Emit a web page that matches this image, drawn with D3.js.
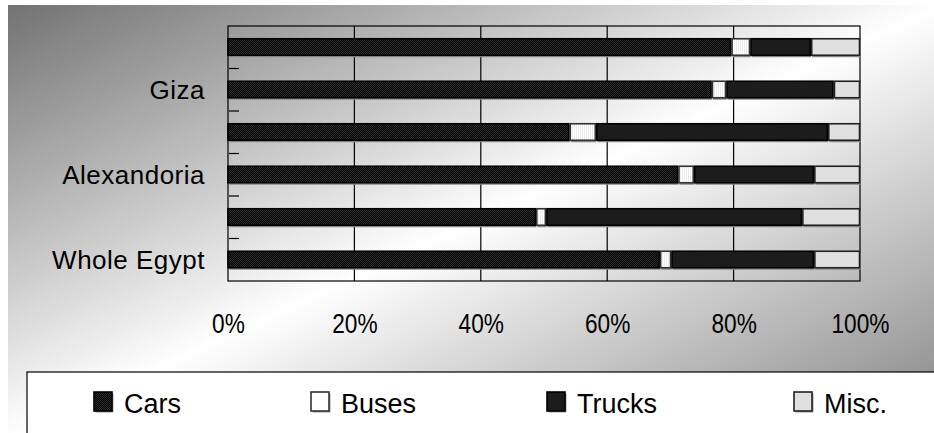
<!DOCTYPE html>
<html>
<head>
<meta charset="utf-8">
<script src="https://cdn.jsdelivr.net/npm/d3@7"></script>
<style>
  html, body { margin: 0; padding: 0; background: #fff; }
  svg { display: block; }
  text { font-family: "Liberation Sans", Arial, sans-serif; fill: #000; }
</style>
</head>
<body>
<svg id="chart" width="934" height="433"></svg>
<script>
// Vehicle mix by region (percent of registered vehicles)
const regions = ["", "Giza", "", "Alexandoria", "", "Whole Egypt"];
const seriesNames = ["Cars", "Buses", "Trucks", "Misc."];
const cars   = [79.6, 76.5, 54.0, 71.2, 48.7, 68.3];
const buses  = [3.0, 2.3, 4.2, 2.5, 1.6, 1.8];
const trucks = [9.6, 17.0, 36.7, 19.0, 40.5, 22.6];
const misc   = [7.8, 4.2, 5.1, 7.3, 9.2, 7.3];
const xTicks = [0, 20, 40, 60, 80, 100];

const svg = d3.select("#chart");
const W = 934, H = 433;
const defs = svg.append("defs");

// backdrop gradient: dark top-left, white through the middle, grey bottom-right
const bg = defs.append("linearGradient").attr("id", "bg")
  .attr("x1", 0).attr("y1", 0).attr("x2", 1).attr("y2", 1);
bg.append("stop").attr("offset", 0).attr("stop-color", "#727272");
bg.append("stop").attr("offset", 0.5).attr("stop-color", "#ffffff");
bg.append("stop").attr("offset", 1).attr("stop-color", "#828282");

// fill textures
const pCars = defs.append("pattern").attr("id", "pCars")
  .attr("width", 2).attr("height", 2).attr("patternUnits", "userSpaceOnUse");
pCars.append("rect").attr("width", 2).attr("height", 2).attr("fill", "#050505");
pCars.append("rect").attr("width", 1).attr("height", 1).attr("fill", "#2a2a2a");
pCars.append("rect").attr("x", 1).attr("y", 1).attr("width", 1).attr("height", 1).attr("fill", "#2a2a2a");

const pBus = defs.append("pattern").attr("id", "pBus")
  .attr("width", 2).attr("height", 2).attr("patternUnits", "userSpaceOnUse");
pBus.append("rect").attr("width", 2).attr("height", 2).attr("fill", "#ffffff");
pBus.append("rect").attr("width", 1).attr("height", 2).attr("fill", "#ececec");

const fills = ["url(#pCars)", "url(#pBus)", "#1c1c1c", "#e0e0e0"];
const legendFills = ["url(#pCars)", "#ffffff", "#1c1c1c", "#e0e0e0"];
const strokes = ["#000", "#333", "#000", "#222"];

svg.append("rect").attr("x", 8).attr("y", 5).attr("width", W).attr("height", H)
  .attr("fill", "url(#bg)");

const plot = { left: 228, right: 860, top: 26, bottom: 281 };

const x = d3.scaleLinear().domain([0, 100]).range([plot.left, plot.right]);
const y = d3.scaleBand().domain(d3.range(regions.length))
  .range([plot.top, plot.bottom]).paddingInner(0.6).paddingOuter(0.3);

// gridlines
svg.append("g").selectAll("line").data(xTicks.slice(1, -1)).join("line")
  .attr("x1", d => x(d)).attr("x2", d => x(d))
  .attr("y1", plot.top).attr("y2", plot.bottom)
  .attr("stroke", "#000").attr("stroke-width", 1.2);

// plot frame
svg.append("rect").attr("x", plot.left).attr("y", plot.top)
  .attr("width", plot.right - plot.left).attr("height", plot.bottom - plot.top)
  .attr("fill", "none").attr("stroke", "#000").attr("stroke-width", 1.2);

// inward category ticks at band boundaries
const bounds = d3.range(1, regions.length).map(i => plot.top + (plot.bottom - plot.top) * i / regions.length);
svg.append("g").selectAll("line").data(bounds).join("line")
  .attr("x1", plot.left + 1).attr("x2", plot.left + 11)
  .attr("y1", d => d).attr("y2", d => d)
  .attr("stroke", "#000").attr("stroke-width", 1.2);

// stacked segments
const rows = regions.map((r, i) => [cars[i], buses[i], trucks[i], misc[i]]);
const segs = [];
rows.forEach((vals, i) => {
  let acc = 0;
  vals.forEach((v, k) => {
    segs.push({ i, k, x0: acc, x1: acc + v });
    acc += v;
  });
});
const bars = svg.append("g");
// soft shadow under each segment
bars.selectAll("rect.sh").data(segs).join("rect").attr("class", "sh")
  .attr("x", d => x(d.x0) + 1.5).attr("y", d => y(d.i) + 1.5)
  .attr("width", d => Math.max(0, x(d.x1) - x(d.x0) - 1))
  .attr("height", y.bandwidth())
  .attr("fill", "#8a8a8a");
bars.selectAll("rect.seg").data(segs).join("rect").attr("class", "seg")
  .attr("x", d => x(d.x0) + (d.k ? 1 : 0)).attr("y", d => y(d.i))
  .attr("width", d => Math.max(0, x(d.x1) - x(d.x0) - (d.k ? 1.5 : 0.5)))
  .attr("height", y.bandwidth() - 0.5)
  .attr("fill", d => fills[d.k])
  .attr("stroke", d => strokes[d.k]).attr("stroke-width", 1.6);

// category labels
svg.append("g").selectAll("text").data(regions).join("text")
  .attr("x", 205).attr("y", (d, i) => y(i) + y.bandwidth() / 2)
  .attr("dy", "0.36em").attr("text-anchor", "end")
  .style("font-size", "26px").style("letter-spacing", "0.5px")
  .text(d => d);

// percentage axis labels
const xAxis = d3.axisBottom(x).tickValues(xTicks).tickSize(0).tickPadding(0)
  .tickFormat(d => d + "%");
const gx = svg.append("g").attr("transform", "translate(0,333)").call(xAxis);
gx.select(".domain").remove();
gx.selectAll("text")
  .attr("dy", 0).attr("y", 0)
  .attr("transform", "scale(0.84,1)")
  .style("font-size", "27px").style("font-family", "'Liberation Sans', Arial, sans-serif")
  .attr("fill", "#000");

// legend
svg.append("rect").attr("x", 27).attr("y", 372).attr("width", W).attr("height", 80)
  .attr("fill", "#fff").attr("stroke", "#000").attr("stroke-width", 1.2);
const legendSquareX = [94, 311, 547, 794];
const lg = svg.append("g").selectAll("g").data(seriesNames).join("g")
  .attr("transform", (d, k) => `translate(${legendSquareX[k]},392)`);
lg.append("rect").attr("x", 1.5).attr("y", 1.5).attr("width", 18).attr("height", 19)
  .attr("fill", "#999");
lg.append("rect").attr("width", 18).attr("height", 19)
  .attr("fill", (d, k) => legendFills[k]).attr("stroke", (d, k) => strokes[k]).attr("stroke-width", 1.6);
lg.append("text").attr("x", 30).attr("y", 21)
  .style("font-size", "27px")
  .text(d => d);
</script>
</body>
</html>
